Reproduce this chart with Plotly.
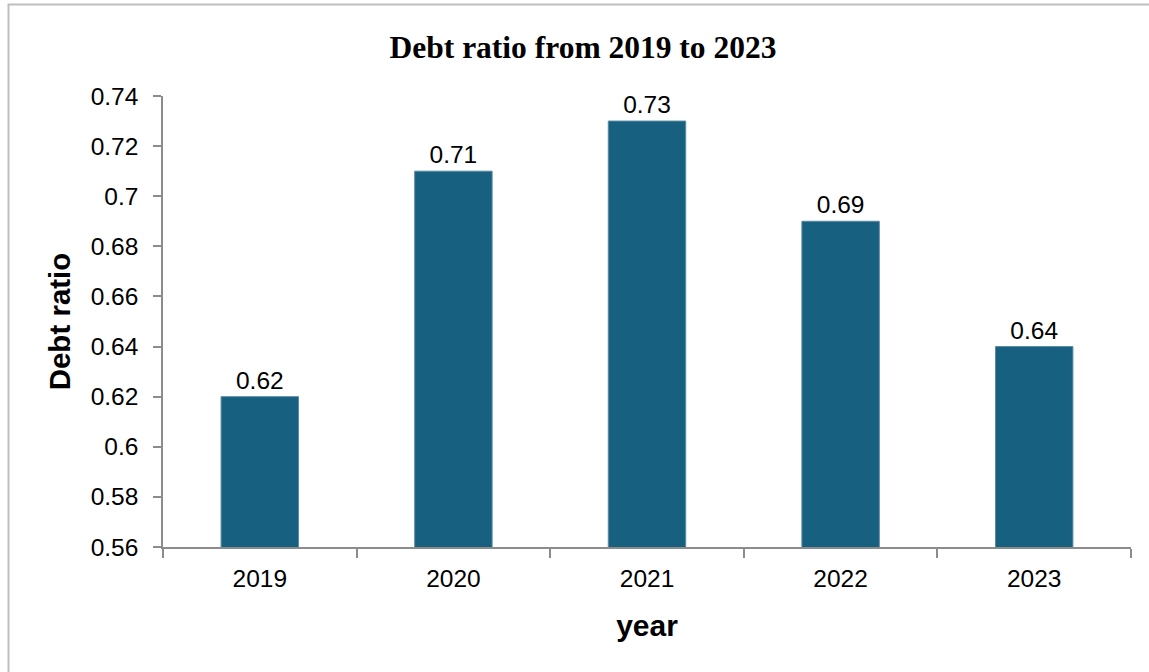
import plotly.graph_objects as go

years = ["2019", "2020", "2021", "2022", "2023"]
debt_ratio = [0.62, 0.71, 0.73, 0.69, 0.64]
label_text = ["0.62", "0.71", "0.73", "0.69", "0.64"]
y_ticks = [0.56, 0.58, 0.6, 0.62, 0.64, 0.66, 0.68, 0.7, 0.72, 0.74]
y_tick_text = ["0.56", "0.58", "0.6", "0.62", "0.64", "0.66", "0.68", "0.7", "0.72", "0.74"]

W, H = 1149, 672
L, R, T, B = 163, 18, 96, 125
pw, ph = W - L - R, H - T - B

fig = go.Figure(go.Bar(
    x=years, y=debt_ratio, width=0.4,
    marker=dict(color="#17607F", line=dict(color="#5B8BA3", width=1)),
    text=label_text, textposition="outside", cliponaxis=False,
    constraintext="none",
    textfont=dict(family="Liberation Sans, Arial", size=24.5, color="#000000"),
    hoverinfo="skip",
))

fig.update_layout(
    width=W, height=H,
    margin=dict(l=L, r=R, t=T, b=B),
    paper_bgcolor="white", plot_bgcolor="white",
    showlegend=False,
    title=dict(text="<b>Debt ratio from 2019 to 2023</b>",
               font=dict(family="Liberation Serif, Times New Roman", size=31.5, color="#000000"),
               x=583 / W, xanchor="center", xref="container",
               y=1 - 47 / H, yanchor="middle", yref="container"),
    xaxis=dict(
        type="category",
        showline=True, linecolor="#8C8C8C", linewidth=1.5,
        ticks="outside", tickson="boundaries", ticklen=9, tickcolor="#8C8C8C", tickwidth=1.5,
        ticklabelstandoff=9,
        tickfont=dict(family="Liberation Sans, Arial", size=24.5, color="#000000"),
        showgrid=False, zeroline=False,
        title=dict(text="<b>year</b>", font=dict(family="Liberation Sans, Arial", size=30, color="#000000"),
                   standoff=24),
    ),
    yaxis=dict(
        range=[0.56, 0.74], tickvals=y_ticks, ticktext=y_tick_text,
        showline=True, linecolor="#8C8C8C", linewidth=1.5,
        ticks="outside", ticklen=8, tickcolor="#8C8C8C", tickwidth=1.5,
        ticklabelstandoff=10,
        tickfont=dict(family="Liberation Sans, Arial", size=24.5, color="#000000"),
        showgrid=False, zeroline=False,
        title=dict(text="<b>Debt ratio</b>", font=dict(family="Liberation Sans, Arial", size=29.5, color="#000000"),
                   standoff=11),
    ),
    shapes=[dict(type="rect", xref="paper", yref="paper",
                 x0=(8.5 - L) / pw, x1=1.2, y0=-0.5, y1=(H - B - 4.5) / ph,
                 line=dict(color="#BFBFBF", width=2), layer="below")],
)

fig.write_html("out.html")
